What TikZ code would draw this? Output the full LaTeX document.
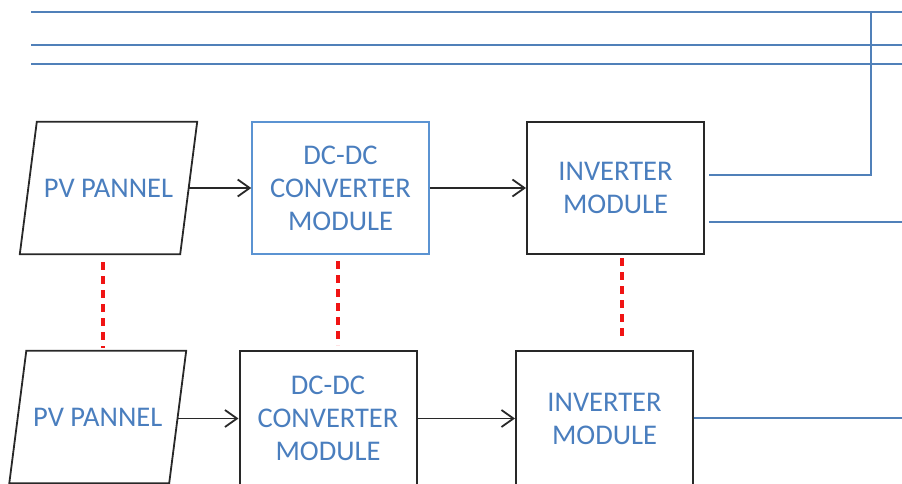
\documentclass[tikz,border=0pt]{standalone}
\usepackage{fontspec}
\setmainfont{Carlito}
\usetikzlibrary{arrows.meta,calc}
\definecolor{txtblue}{RGB}{74,126,190}
\definecolor{lineblue}{RGB}{80,128,185}
\definecolor{boxblue}{RGB}{91,147,210}
\definecolor{boxblack}{RGB}{40,40,40}
\definecolor{dashred}{RGB}{240,20,20}
\begin{document}
\begin{tikzpicture}[x=1pt,y=-1pt,
  lbl/.style={text=txtblue,font=\fontsize{28.5}{33}\selectfont,align=center,inner sep=0pt},
  pvnode/.style={lbl,minimum width=160pt,minimum height=132pt},
  modbox/.style={lbl,draw=boxblack,line width=2pt,minimum width=177pt,minimum height=132pt},
  pvshape/.style={draw=boxblack,line width=1.8pt},
  flow/.style={draw=boxblack,line width=1.8pt,-{Straight Barb[length=12pt,width=17pt,line width=1.8pt]}},
  bus/.style={draw=lineblue,line width=2pt},
  link/.style={draw=dashred,line width=3.4pt,dash pattern=on 8pt off 6pt}]
\useasboundingbox (0,0) rectangle (902,484);

% top bus lines
\coordinate (b1w) at (31,12);  \coordinate (b1e) at (902,12);
\coordinate (b2w) at (31,45);  \coordinate (b2e) at (902,45);
\coordinate (b3w) at (31,64);  \coordinate (b3e) at (902,64);
\draw[bus] (b1w) -- (b1e);
\draw[bus] (b2w) -- (b2e);
\draw[bus] (b3w) -- (b3e);

% top row
\node[pvnode] (pv1) at (108.5,188) {PV PANNEL};
\draw[pvshape] ([xshift=8.5pt]pv1.north west) -- ([xshift=8.5pt]pv1.north east)
  -- ([xshift=-8.5pt]pv1.south east) -- ([xshift=-8.5pt]pv1.south west) -- cycle;
\node[modbox,draw=boxblue,line width=1.5pt] (dc1) at (340.5,188) {DC-DC\\CONVERTER\\MODULE};
\node[modbox] (inv1) at (615.5,188) {INVERTER\\MODULE};

% bottom row
\node[pvnode,minimum width=159.5pt] (pv2) at (97.75,417) {PV PANNEL};
\draw[pvshape] ([xshift=8.5pt]pv2.north west) -- ([xshift=8.5pt]pv2.north east)
  -- ([xshift=-8.5pt]pv2.south east) -- ([xshift=-8.5pt]pv2.south west) -- cycle;
\node[modbox,minimum height=135pt] (dc2) at (328,418.5) {DC-DC\\CONVERTER\\MODULE};
\node[modbox,minimum height=135pt] (inv2) at (604.5,418.5) {INVERTER\\MODULE};

% flow arrows
\draw[flow] (pv1.east) -- (dc1.west);
\draw[flow] (dc1.east) -- (inv1.west);
\draw[flow] (pv2.east |- dc2.west) -- (dc2.west);
\draw[flow] (dc2.east) -- (inv2.west);

% inverter outputs
\coordinate (o1) at (709,175);
\coordinate (o1c) at (871,175);
\coordinate (o1t) at (871,12);
\draw[bus] (o1) -- (o1c) -- (o1t);
\coordinate (o2) at (709,222);
\coordinate (o2e) at (902,222);
\draw[bus] (o2) -- (o2e);
\coordinate (o3e) at (902,418);
\draw[bus] (inv2.east |- o3e) -- (o3e);

% red dashed links
\coordinate (r1a) at (103,262); \coordinate (r1b) at (103,348);
\coordinate (r2a) at (338,261); \coordinate (r2b) at (338,345);
\coordinate (r3a) at (622,258); \coordinate (r3b) at (622,340);
\draw[link] (r1a) -- (r1b);
\draw[link] (r2a) -- (r2b);
\draw[link] (r3a) -- (r3b);
\end{tikzpicture}
\end{document}
